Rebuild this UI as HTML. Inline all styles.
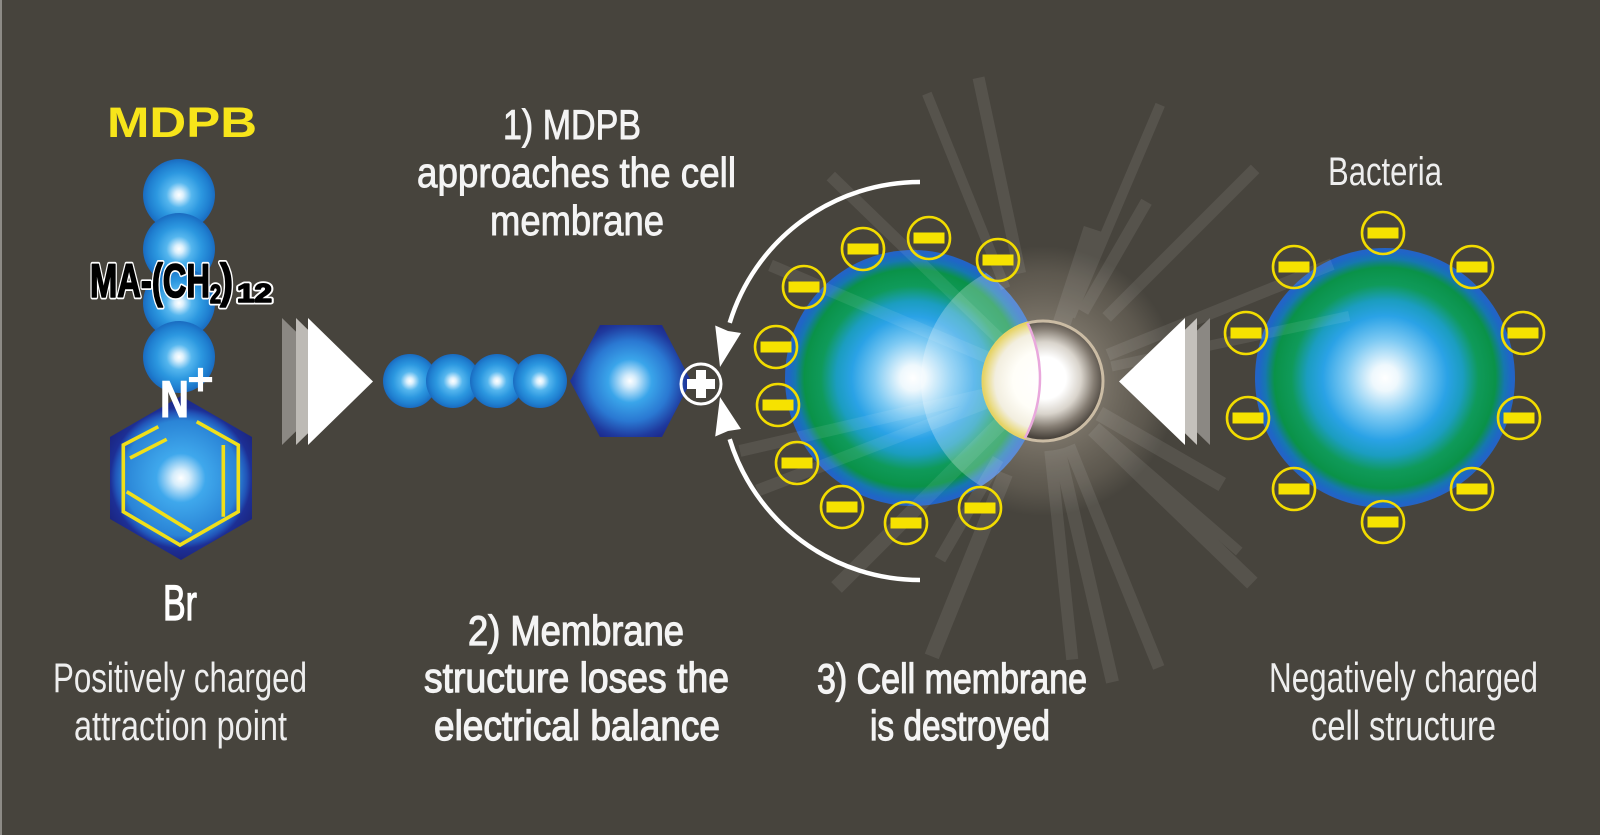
<!DOCTYPE html>
<html><head><meta charset="utf-8"><style>
html,body{margin:0;padding:0;background:#47443d;}
svg{display:block;}
text{font-family:"Liberation Sans Narrow","Liberation Sans",sans-serif;}
</style></head><body>
<svg width="1600" height="835" viewBox="0 0 1600 835" xmlns="http://www.w3.org/2000/svg">
<defs>
  <radialGradient id="ball" cx="0.5" cy="0.5" r="0.5">
    <stop offset="0" stop-color="#ffffff"/>
    <stop offset="0.12" stop-color="#dcf0fc"/>
    <stop offset="0.35" stop-color="#55b6ee"/>
    <stop offset="0.62" stop-color="#2c98e0"/>
    <stop offset="0.86" stop-color="#1f7fd0"/>
    <stop offset="1" stop-color="#1a6bc0"/>
  </radialGradient>
  <radialGradient id="hex1" gradientUnits="userSpaceOnUse" cx="630" cy="381" r="62">
    <stop offset="0" stop-color="#ffffff"/>
    <stop offset="0.1" stop-color="#d5ecfb"/>
    <stop offset="0.35" stop-color="#3aa5ea"/>
    <stop offset="0.65" stop-color="#2a78d2"/>
    <stop offset="0.9" stop-color="#1f3a9e"/>
    <stop offset="1" stop-color="#1d2c90"/>
  </radialGradient>
  <radialGradient id="hex2" gradientUnits="userSpaceOnUse" cx="181" cy="478" r="82">
    <stop offset="0" stop-color="#ffffff"/>
    <stop offset="0.1" stop-color="#d6edfb"/>
    <stop offset="0.3" stop-color="#3fa8ec"/>
    <stop offset="0.7" stop-color="#2a84d6"/>
    <stop offset="0.8" stop-color="#2154b8"/>
    <stop offset="0.86" stop-color="#1d2f95"/>
    <stop offset="1" stop-color="#1b2580"/>
  </radialGradient>
  <radialGradient id="cellg" cx="0.5" cy="0.5" r="0.5">
    <stop offset="0" stop-color="#ffffff"/>
    <stop offset="0.1" stop-color="#eef8fd"/>
    <stop offset="0.3" stop-color="#7cc9f3"/>
    <stop offset="0.48" stop-color="#2aa2e6"/>
    <stop offset="0.6" stop-color="#1b9dc0"/>
    <stop offset="0.72" stop-color="#0f9a5a"/>
    <stop offset="0.85" stop-color="#0a9248"/>
    <stop offset="0.92" stop-color="#1677b0"/>
    <stop offset="0.97" stop-color="#1f66c6"/>
    <stop offset="1" stop-color="#2563c4"/>
  </radialGradient>
  <radialGradient id="glow" gradientUnits="userSpaceOnUse" cx="1043" cy="381" r="135">
    <stop offset="0" stop-color="#ebe1d2" stop-opacity="0.6"/>
    <stop offset="0.45" stop-color="#c8bcaa" stop-opacity="0.38"/>
    <stop offset="0.8" stop-color="#aa9e8c" stop-opacity="0.22"/>
    <stop offset="1" stop-color="#aa9e8c" stop-opacity="0"/>
  </radialGradient>
  <radialGradient id="burst" gradientUnits="userSpaceOnUse" cx="1045" cy="378" r="60">
    <stop offset="0" stop-color="#ffffff"/>
    <stop offset="0.35" stop-color="#ffffff"/>
    <stop offset="0.6" stop-color="#d9d4cc"/>
    <stop offset="0.82" stop-color="#857d73"/>
    <stop offset="1" stop-color="#4a443d"/>
  </radialGradient>
  <radialGradient id="lens2" gradientUnits="userSpaceOnUse" cx="1043" cy="381" r="60">
    <stop offset="0" stop-color="#ffffff"/>
    <stop offset="0.5" stop-color="#fffef8"/>
    <stop offset="0.8" stop-color="#f2eedf"/>
    <stop offset="0.94" stop-color="#eadc8a"/>
    <stop offset="1" stop-color="#e6d365"/>
  </radialGradient>
  <clipPath id="cellclip"><circle cx="913" cy="378" r="128"/></clipPath>
  <clipPath id="burstclip"><circle cx="1043" cy="381" r="60"/></clipPath>
  <g id="neg">
    <circle r="21" fill="none" stroke="#f2dc00" stroke-width="2.6"/>
    <rect x="-15.5" y="-5.5" width="31" height="11" fill="#f6e200"/>
  </g>
</defs>

<rect width="1600" height="835" fill="#47443d"/>
<rect x="0" y="0" width="2" height="835" fill="#8d8b86"/>

<!-- glow -->
<circle cx="1043" cy="381" r="135" fill="url(#glow)"/>

<!-- cell sphere -->
<circle cx="913" cy="378" r="128" fill="url(#cellg)"/>
<circle cx="1043" cy="381" r="122" fill="#ffffff" opacity="0.26" clip-path="url(#cellclip)"/>

<!-- bacteria sphere -->
<circle cx="1385" cy="378" r="130" fill="url(#cellg)"/>

<!-- rays -->
<g fill="#ffffff" opacity="0.085">
  <rect x="100" y="-5" width="210" height="10" transform="translate(1043 381) rotate(-112)"/>
  <rect x="110" y="-6" width="200" height="12" transform="translate(1043 381) rotate(-102)"/>
  <rect x="70" y="-5" width="230" height="10" transform="translate(1043 381) rotate(-67)"/>
  <rect x="90" y="-6" width="210" height="12" transform="translate(1043 381) rotate(-45)"/>
  <rect x="80" y="-6" width="127" height="12" transform="translate(1043 381) rotate(-60)"/>
  <rect x="60" y="-9" width="100" height="18" transform="translate(1043 381) rotate(-72)"/>
  <rect x="60" y="-6" width="235" height="12" transform="translate(1043 381) rotate(-136)"/>
  <rect x="70" y="-6" width="242" height="12" transform="translate(1043 381) rotate(-22)"/>
  <rect x="70" y="-5" width="243" height="10" transform="translate(1043 381) rotate(-12)"/>
  <rect x="100" y="-7.5" width="197" height="15" transform="translate(1043 381) rotate(112)"/>
  <rect x="90" y="-6" width="116" height="12" transform="translate(1043 381) rotate(120)"/>
  <rect x="70" y="-6.5" width="239" height="13" transform="translate(1043 381) rotate(77)"/>
  <rect x="70" y="-6" width="239" height="12" transform="translate(1043 381) rotate(68)"/>
  <rect x="70" y="-7.5" width="221" height="15" transform="translate(1043 381) rotate(44)"/>
  <rect x="65" y="-7.5" width="142" height="15" transform="translate(1043 381) rotate(30)"/>
  <rect x="60" y="-7.5" width="232" height="15" transform="translate(1043 381) rotate(135)"/>
  <rect x="60" y="-6" width="236" height="12" transform="translate(1043 381) rotate(-157)"/>
  <rect x="60" y="-6" width="251" height="12" transform="translate(1043 381) rotate(167)"/>
  <rect x="60" y="-6" width="246" height="12" transform="translate(1043 381) rotate(159)"/>
  <rect x="70" y="-5" width="190" height="10" transform="translate(1043 381) rotate(41)"/>
  <rect x="70" y="-6" width="210" height="12" transform="translate(1043 381) rotate(84)"/>
</g>

<!-- burst -->
<circle cx="1043" cy="381" r="60" fill="url(#burst)" stroke="#cbbca4" stroke-width="3"/>
<g clip-path="url(#cellclip)">
  <circle cx="1043" cy="381" r="61.5" fill="url(#lens2)"/>
</g>
<g clip-path="url(#burstclip)">
  <circle cx="913" cy="378" r="127" fill="none" stroke="#e9a8dc" stroke-width="2.5"/>
</g>

<!-- negative charges: cell -->
<use href="#neg" x="863" y="249"/>
<use href="#neg" x="929" y="238"/>
<use href="#neg" x="998" y="260"/>
<use href="#neg" x="804" y="287"/>
<use href="#neg" x="776" y="347"/>
<use href="#neg" x="778" y="405"/>
<use href="#neg" x="797" y="463"/>
<use href="#neg" x="842" y="507"/>
<use href="#neg" x="906" y="523"/>
<use href="#neg" x="980" y="508"/>

<!-- negative charges: bacteria -->
<use href="#neg" x="1383" y="233"/>
<use href="#neg" x="1472" y="267"/>
<use href="#neg" x="1523" y="333"/>
<use href="#neg" x="1519" y="418"/>
<use href="#neg" x="1472" y="489"/>
<use href="#neg" x="1383" y="522"/>
<use href="#neg" x="1294" y="489"/>
<use href="#neg" x="1248" y="418"/>
<use href="#neg" x="1246" y="333"/>
<use href="#neg" x="1294" y="267"/>

<!-- arcs -->
<path d="M920 182 A199 199 0 0 0 729.7 322.8" stroke="#ffffff" stroke-width="4.5" fill="none"/>
<polygon points="720,367 715.2,325.5 728,331 741,333" fill="#ffffff"/>
<path d="M920 580 A199 199 0 0 1 729.7 439.2" stroke="#ffffff" stroke-width="4.5" fill="none"/>
<polygon points="720,397 715.2,436.5 728,431 741,429" fill="#ffffff"/>

<!-- horizontal molecule -->
<circle cx="410" cy="381" r="27" fill="url(#ball)"/>
<circle cx="453" cy="381" r="27" fill="url(#ball)"/>
<circle cx="497" cy="381" r="27" fill="url(#ball)"/>
<circle cx="540" cy="381" r="27" fill="url(#ball)"/>
<polygon points="570,381 600,325 662,325 691,381 662,437 600,437" fill="url(#hex1)"/>
<circle cx="701" cy="384" r="20" fill="none" stroke="#ffffff" stroke-width="3"/>
<rect x="687" y="379" width="28" height="10" fill="#ffffff"/>
<rect x="696" y="370" width="10" height="28" fill="#ffffff"/>

<!-- vertical molecule -->
<circle cx="179" cy="195" r="36" fill="url(#ball)"/>
<circle cx="179" cy="249" r="36" fill="url(#ball)"/>
<circle cx="179" cy="303" r="36" fill="url(#ball)"/>
<circle cx="179" cy="357" r="36" fill="url(#ball)"/>
<polygon points="181,396 252,437 252,519 181,560 110,519 110,437" fill="url(#hex2)"/>
<g stroke="#f0df1a" stroke-width="3.6" fill="none" stroke-linejoin="miter">
  <polyline points="158.3,426.7 123.3,445 123.3,511.7 180,545 238.3,511.7 238.3,445 196.7,421.7"/>
  <line x1="166.7" y1="439.3" x2="130" y2="458"/>
  <line x1="223.3" y1="445" x2="223.3" y2="516.7"/>
  <line x1="126.7" y1="491.7" x2="191.7" y2="531.7"/>
</g>

<!-- triangles -->
<polygon points="282,318 347,381.5 282,445" fill="#8b8883"/>
<polygon points="296,318 361,381.5 296,445" fill="#bdbab5"/>
<polygon points="308,318 373,381.5 308,445" fill="#ffffff"/>
<polygon points="1210,318 1145,381.5 1210,445" fill="#8b8883"/>
<polygon points="1197,318 1132,381.5 1197,445" fill="#c4c1bc"/>
<polygon points="1185,318 1119,381.5 1185,445" fill="#ffffff"/>

<!-- molecule labels -->
<text x="107" y="137" font-size="43" font-weight="bold" fill="#f7e51a" textLength="150" lengthAdjust="spacingAndGlyphs" style="font-family:'Liberation Sans',sans-serif">MDPB</text>
<g fill="#ffffff" stroke="#ffffff" stroke-width="5" stroke-linejoin="round" font-weight="bold">
  <text x="90" y="297" font-size="47" textLength="120" lengthAdjust="spacingAndGlyphs">MA-(CH</text>
  <text x="210" y="303" font-size="26" textLength="11" lengthAdjust="spacingAndGlyphs">2</text>
  <text x="220" y="297" font-size="47" textLength="13" lengthAdjust="spacingAndGlyphs">)</text>
  <text x="237" y="302" font-size="26" textLength="35" lengthAdjust="spacingAndGlyphs">12</text>
</g>
<g fill="#000000" stroke="#000000" stroke-width="1.6" stroke-linejoin="round" font-weight="bold">
  <text x="90" y="297" font-size="47" textLength="120" lengthAdjust="spacingAndGlyphs">MA-(CH</text>
  <text x="210" y="303" font-size="26" textLength="11" lengthAdjust="spacingAndGlyphs">2</text>
  <text x="220" y="297" font-size="47" textLength="13" lengthAdjust="spacingAndGlyphs">)</text>
  <text x="237" y="302" font-size="26" textLength="35" lengthAdjust="spacingAndGlyphs">12</text>
</g>
<text x="160" y="417" font-size="52" font-weight="bold" fill="#ffffff" stroke="#ffffff" stroke-width="1" textLength="29" lengthAdjust="spacingAndGlyphs">N</text>
<text x="187" y="395" font-size="46" font-weight="bold" fill="#ffffff" textLength="27" lengthAdjust="spacingAndGlyphs">+</text>
<text x="163" y="620" font-size="50" fill="#ffffff" stroke="#ffffff" stroke-width="1.2" textLength="34" lengthAdjust="spacingAndGlyphs">Br</text>

<!-- light labels -->
<g fill="#eeeeee" font-size="42">
  <text x="53" y="692" textLength="254" lengthAdjust="spacingAndGlyphs">Positively charged</text>
  <text x="74" y="740" textLength="213" lengthAdjust="spacingAndGlyphs">attraction point</text>
  <text x="1328" y="185" font-size="40" textLength="114" lengthAdjust="spacingAndGlyphs">Bacteria</text>
  <text x="1269" y="692" textLength="269" lengthAdjust="spacingAndGlyphs">Negatively charged</text>
  <text x="1311" y="740" textLength="185" lengthAdjust="spacingAndGlyphs">cell structure</text>
</g>

<!-- step labels -->
<g fill="#f4f4f4" stroke="#f4f4f4" stroke-width="0.9" font-size="42">
  <text x="503" y="139" textLength="138" lengthAdjust="spacingAndGlyphs">1) MDPB</text>
  <text x="417" y="187" textLength="319" lengthAdjust="spacingAndGlyphs">approaches the cell</text>
  <text x="490" y="235" textLength="174" lengthAdjust="spacingAndGlyphs">membrane</text>
</g>
<g fill="#f4f4f4" stroke="#f4f4f4" stroke-width="1.2" font-size="42">
  <text x="468" y="645" textLength="216" lengthAdjust="spacingAndGlyphs">2) Membrane</text>
  <text x="424" y="692" textLength="305" lengthAdjust="spacingAndGlyphs">structure loses the</text>
  <text x="434" y="740" textLength="286" lengthAdjust="spacingAndGlyphs">electrical balance</text>
  <text x="817" y="693" textLength="270" lengthAdjust="spacingAndGlyphs">3) Cell membrane</text>
  <text x="870" y="740" textLength="180" lengthAdjust="spacingAndGlyphs">is destroyed</text>
</g>
</svg>
</body></html>
